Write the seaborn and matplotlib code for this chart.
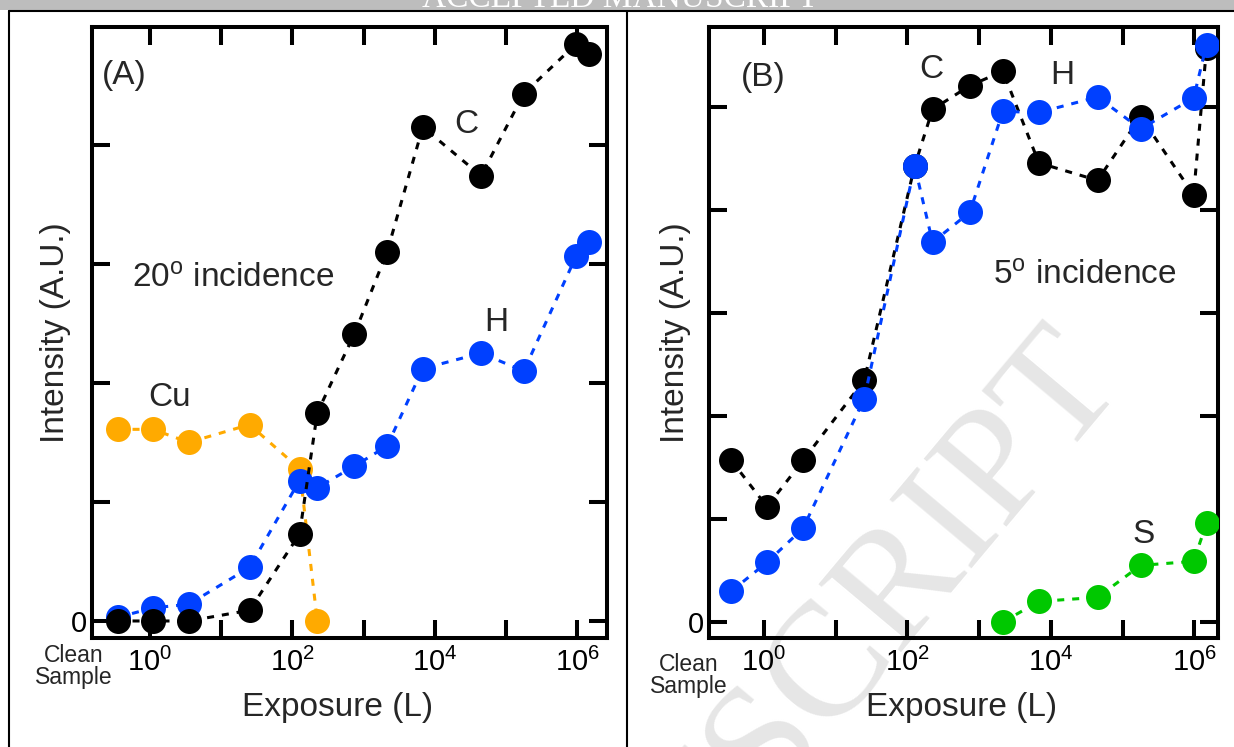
import matplotlib
matplotlib.use("Agg")
import matplotlib.pyplot as plt
import seaborn as sns
import pandas as pd
from matplotlib.ticker import FixedLocator, FixedFormatter, NullLocator
from matplotlib.patches import Rectangle
from matplotlib.lines import Line2D

# ---------------- data ----------------
# exposure in Langmuir; the first entry is the "Clean Sample" point (placed left of 10^0)
exposure = [0.35, 1.1, 3.5, 25, 126, 224, 740, 2140, 6800, 44700, 178000, 977000, 1.48e6]

# Panel A: 20 deg incidence
a_C = [0.0, 0.0, 0.0, 0.09, 0.73, 1.75, 2.41, 3.10, 4.15, 3.74, 4.43, 4.85, 4.76]
a_H = [0.03, 0.11, 0.14, 0.45, 1.18, 1.12, 1.30, 1.47, 2.12, 2.25, 2.10, 3.07, 3.18]
a_Cu = [1.61, 1.61, 1.50, 1.65, 1.28, 0.0]          # first six exposures

# Panel B: 5 deg incidence
b_C = [1.57, 1.12, 1.57, 2.35, 4.43, 4.98, 5.21, 5.35, 4.46, 4.29, 4.91, 4.15, 5.58]
b_H = [0.30, 0.58, 0.91, 2.17, 4.43, 3.69, 3.98, 4.96, 4.95, 5.10, 4.79, 5.09, 5.61]
b_S = [0.0, 0.20, 0.24, 0.55, 0.59, 0.96]            # last six exposures

xtick_vals = [1, 10, 100, 1e3, 1e4, 1e5, 1e6]
xtick_labels = [r"$10^{0}$", "", r"$10^{2}$", "", r"$10^{4}$", "", r"$10^{6}$"]

col_C, col_H, col_Cu, col_S = "#000000", "#0040FF", "#FFAA00", "#00C800"

# ---------------- style ----------------
sns.set_style("white")
plt.rcParams["font.family"] = ["Liberation Sans", "DejaVu Sans"]
plt.rcParams["mathtext.fontset"] = "custom"
plt.rcParams["mathtext.rm"] = "Liberation Sans"
plt.rcParams["mathtext.it"] = "Liberation Sans:italic"
plt.rcParams["mathtext.bf"] = "Liberation Sans:bold"

W, H = 1234, 747
fig = plt.figure(figsize=(W / 100, H / 100), dpi=100)

# header band and frame
fig.patches.append(Rectangle((0, 1 - 10 / H), 1, 10 / H, transform=fig.transFigure,
                             facecolor="#bdbdbd", edgecolor="none", zorder=-2))
fig.text(620 / W, 1 - 7 / H, "ACCEPTED MANUSCRIPT", family="Liberation Serif",
         fontsize=24, color="white", ha="center", va="baseline", zorder=-1)
for (x0, y0, x1, y1) in [(9, 11, W, 11), (9, 11, 9, H), (627, 11, 627, H)]:
    fig.add_artist(Line2D([x0 / W, x1 / W], [1 - y0 / H, 1 - y1 / H],
                          transform=fig.transFigure, color="black", lw=1.5, zorder=-1))

# watermark (behind everything)
fig.text(755 / W, 1 - 760 / H, "MANUSCRIPT", family="Liberation Serif", fontsize=118,
         color="#e6e6e6", rotation=50, rotation_mode="anchor", ha="center", va="center",
         zorder=-3)


def px_axes(l, r, t, b):
    return fig.add_axes([l / W, 1 - b / H, (r - l) / W, (b - t) / H])


axA = px_axes(92, 607, 27, 638)
axB = px_axes(709, 1218, 27, 638)

line_kw = dict(marker="o", markersize=18, markeredgewidth=0,
               linestyle=(0, (2.3, 2.6)), linewidth=2.2, sort=False,
               estimator=None, legend=False)


def series(ax, xs, ys, color, z):
    df = pd.DataFrame({"Exposure": xs, "Intensity": ys})
    sns.lineplot(data=df, x="Exposure", y="Intensity", ax=ax, color=color,
                 zorder=z, **line_kw)


series(axA, exposure[:6], a_Cu, col_Cu, 3)
series(axA, exposure, a_H, col_H, 4)
series(axA, exposure, a_C, col_C, 5)

series(axB, exposure, b_C, col_C, 3)
series(axB, exposure, b_H, col_H, 4)
series(axB, exposure[7:], b_S, col_S, 5)

for ax, xlim, ylim, nyt in [(axA, (10 ** -0.815, 10 ** 6.42), (-0.143, 4.99), 5),
                            (axB, (10 ** -0.767, 10 ** 6.33), (-0.155, 5.78), 6)]:
    ax.set_facecolor("none")
    ax.set_xscale("log")
    ax.set_xlim(*xlim)
    ax.set_ylim(*ylim)
    ax.xaxis.set_major_locator(FixedLocator(xtick_vals))
    ax.xaxis.set_major_formatter(FixedFormatter(xtick_labels))
    ax.xaxis.set_minor_locator(NullLocator())
    ax.yaxis.set_major_locator(FixedLocator(list(range(nyt))))
    ax.yaxis.set_major_formatter(FixedFormatter(["0"] + [""] * (nyt - 1)))
    ax.yaxis.set_minor_locator(NullLocator())
    ax.tick_params(axis="both", which="major", direction="in", length=12.7, width=2.9,
                   top=True, right=True, bottom=True, left=True, color="black",
                   labelsize=21, labelcolor="black")
    ax.tick_params(axis="x", pad=7)
    ax.tick_params(axis="y", pad=3.5)
    for s in ax.spines.values():
        s.set_visible(True)
        s.set_linewidth(2.9)
        s.set_color("black")
    ax.set_xlabel("Exposure (L)", fontsize=24)
    ax.set_ylabel("Intensity (A.U.)", fontsize=24)
    ax.xaxis.label.set_va("center")
    ax.yaxis.label.set_va("center")

axA.xaxis.set_label_coords(0.477, -0.113)
axB.xaxis.set_label_coords(0.497, -0.113)
axA.yaxis.set_label_coords(-0.07, 0.5)
axB.yaxis.set_label_coords(-0.065, 0.5)

# "Clean Sample" labels
axA.text(-0.036, -0.046, "Clean\nSample", transform=axA.transAxes, fontsize=16.5,
         ha="center", va="center", linespacing=0.95)
axB.text(-0.04, -0.062, "Clean\nSample", transform=axB.transAxes, fontsize=16.5,
         ha="center", va="center", linespacing=0.95)

# annotations panel A
tA = dict(transform=axA.transAxes, fontsize=24, ha="center", va="center")
axA.text(0.062, 0.921, "(A)", **tA)
axA.text(0.726, 0.840, "C", **tA)
axA.text(0.786, 0.517, "H", **tA)
axA.text(0.151, 0.394, "Cu", **tA)
axA.text(0.078, 0.574, r"20$^{\mathrm{o}}$ incidence", transform=axA.transAxes,
         fontsize=24, ha="left", va="baseline")

# annotations panel B
tB = dict(transform=axB.transAxes, fontsize=24, ha="center", va="center")
axB.text(0.106, 0.917, "(B)", **tB)
axB.text(0.436, 0.930, "C", **tB)
axB.text(0.695, 0.921, "H", **tB)
axB.text(0.854, 0.169, "S", **tB)
axB.text(0.558, 0.578, r"5$^{\mathrm{o}}$ incidence", transform=axB.transAxes,
         fontsize=24, ha="left", va="baseline")

fig.savefig("out.png", dpi=100)
